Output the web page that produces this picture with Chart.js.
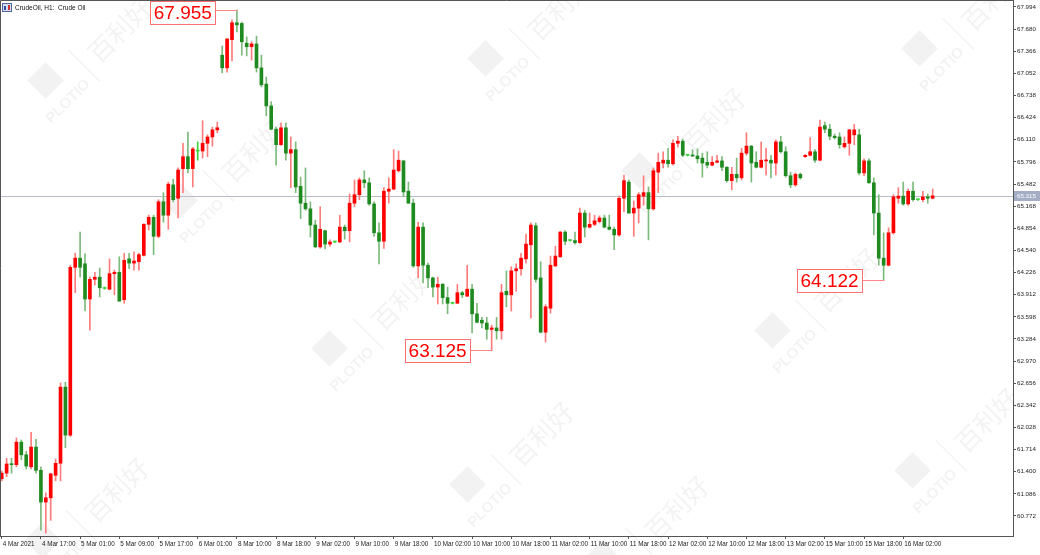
<!DOCTYPE html>
<html>
<head>
<meta charset="utf-8">
<title>CrudeOil H1</title>
<script src="https://cdn.jsdelivr.net/npm/chart.js@4.4.0/dist/chart.umd.min.js"></script>
<style>
  html, body { margin: 0; padding: 0; background: #fff; }
  canvas { display: block; }
</style>
</head>
<body>
<canvas id="chart" width="1040" height="555"></canvas>
<script>
// Chart title shown in the top-left corner
const chartTitle = 'CrudeOil, H1:  Crude Oil';

// Time labels, one every 8 hourly bars
const xTickLabels = [
  '4 Mar 2021', '4 Mar 17:00', '5 Mar 01:00', '5 Mar 09:00', '5 Mar 17:00', '6 Mar 01:00',
  '8 Mar 10:00', '8 Mar 18:00', '9 Mar 02:00', '9 Mar 10:00', '9 Mar 18:00', '10 Mar 02:00',
  '10 Mar 10:00', '10 Mar 18:00', '11 Mar 02:00', '11 Mar 10:00', '11 Mar 18:00', '12 Mar 02:00',
  '12 Mar 10:00', '12 Mar 18:00', '13 Mar 02:00', '15 Mar 10:00', '15 Mar 18:00', '16 Mar 02:00'
];

// Price scale labels
const yTickValues = [
  67.994, 67.680, 67.366, 67.052, 66.738, 66.424, 66.110, 65.796, 65.482, 65.168, 64.854, 64.540,
  64.226, 63.912, 63.598, 63.284, 62.970, 62.656, 62.342, 62.028, 61.714, 61.400, 61.086, 60.772
];

// Hourly candles (OHLC)
const opens = [
  61.30, 61.38, 61.51, 61.50, 61.82, 61.64, 61.47, 61.75, 61.42, 60.97,
  61.03, 61.35, 61.52, 62.60, 61.92, 64.30, 64.43, 64.35, 63.85, 64.13,
  64.16, 64.00, 63.99, 64.21, 64.23, 63.84, 64.42, 64.36, 64.38, 64.47,
  64.91, 65.01, 64.74, 65.23, 65.04, 65.47, 65.28, 65.70, 65.87, 65.70,
  65.95, 65.95, 66.06, 66.15, 66.25, 67.31, 67.13, 67.53, 67.77, 67.76,
  67.48, 67.43, 67.47, 67.13, 66.90, 66.59, 66.26, 66.04, 66.28, 65.92,
  65.97, 65.45, 65.21, 65.13, 64.90, 64.59, 64.82, 64.63, 64.66, 64.66,
  64.87, 64.82, 65.21, 65.33, 65.54, 65.50, 65.20, 64.79, 64.67, 65.38,
  65.41, 65.67, 65.81, 65.38, 65.21, 64.32, 64.87, 64.33, 64.15, 64.02,
  64.06, 63.87, 63.79, 63.79, 63.94, 63.89, 63.99, 63.64, 63.55, 63.51,
  63.42, 63.44, 63.40, 63.96, 63.91, 64.25, 64.28, 64.42, 64.62, 64.89,
  64.15, 63.38, 63.72, 64.32, 64.45, 64.80, 64.68, 64.68, 64.65, 65.07,
  64.87, 64.91, 64.95, 65.00, 64.87, 64.84, 64.76, 65.28, 65.51, 65.07,
  65.14, 65.31, 65.36, 65.13, 65.65, 65.78, 65.82, 65.77, 66.06, 66.09,
  65.89, 65.89, 65.88, 65.85, 65.79, 65.75, 65.79, 65.81, 65.72, 65.53,
  65.62, 65.57, 65.92, 66.02, 65.79, 65.72, 65.81, 65.82, 65.78, 66.08,
  65.94, 65.60, 65.47, 65.62, 65.87, 65.89, 65.94, 65.82, 66.31, 66.26,
  66.16, 66.15, 66.01, 66.06, 66.18, 66.18, 65.64, 65.81, 65.50, 65.07,
  64.43, 64.33, 64.79, 65.28, 65.31, 65.20, 65.38, 65.26, 65.26, 65.30, 65.28
];
const highs = [
  61.41, 61.59, 61.59, 61.88, 61.85, 61.69, 61.96, 61.86, 61.47, 61.10,
  61.38, 61.58, 62.66, 62.67, 64.33, 64.50, 64.80, 64.49, 64.16, 64.23,
  64.29, 64.02, 64.42, 64.26, 64.45, 64.50, 64.50, 64.52, 64.50, 64.92,
  65.04, 65.04, 65.26, 65.36, 65.51, 65.55, 65.71, 66.06, 66.22, 66.00,
  66.08, 66.38, 66.18, 66.29, 66.36, 67.44, 67.55, 67.81, 67.955, 67.78,
  67.57, 67.50, 67.58, 67.31, 67.00, 66.65, 66.29, 66.35, 66.35, 66.15,
  66.08, 65.58, 65.71, 65.23, 64.97, 65.16, 64.83, 64.69, 64.67, 65.04,
  64.90, 65.34, 65.54, 65.57, 65.67, 65.57, 65.23, 64.93, 65.43, 65.57,
  65.97, 65.95, 65.82, 65.51, 65.27, 64.94, 64.93, 64.36, 64.16, 64.16,
  64.07, 64.02, 63.80, 64.06, 63.96, 64.33, 64.06, 63.79, 63.59, 63.59,
  63.48, 63.59, 64.06, 64.25, 64.31, 64.35, 64.50, 64.77, 64.93, 64.93,
  64.38, 63.77, 64.46, 64.60, 64.81, 64.82, 64.69, 64.80, 65.14, 65.11,
  65.07, 65.04, 65.03, 65.04, 65.04, 64.87, 65.31, 65.61, 65.54, 65.24,
  65.36, 65.60, 65.44, 65.71, 65.92, 65.94, 65.99, 66.11, 66.16, 66.12,
  65.90, 65.97, 65.98, 65.92, 65.94, 65.87, 65.89, 65.87, 65.73, 65.72,
  65.85, 65.99, 66.21, 66.03, 65.94, 66.08, 65.99, 65.89, 66.11, 66.16,
  66.01, 65.65, 65.64, 65.64, 65.90, 66.14, 65.97, 66.39, 66.36, 66.33,
  66.19, 66.21, 66.15, 66.26, 66.33, 66.26, 65.84, 65.84, 65.57, 65.33,
  64.79, 64.86, 65.33, 65.43, 65.51, 65.41, 65.51, 65.27, 65.38, 65.34, 65.41
];
const lows = [
  61.27, 61.33, 61.38, 61.47, 61.57, 61.44, 61.44, 61.38, 60.57, 60.53,
  60.71, 61.27, 61.27, 61.74, 61.90, 63.94, 64.16, 63.68, 63.41, 64.05,
  63.88, 63.99, 63.98, 63.91, 63.82, 63.79, 64.28, 64.26, 64.26, 64.46,
  64.83, 64.48, 64.72, 64.94, 64.84, 65.23, 65.00, 65.36, 65.64, 65.44,
  65.82, 65.85, 65.87, 66.02, 66.21, 67.06, 67.07, 67.23, 67.64, 67.31,
  67.30, 67.24, 67.07, 66.86, 66.45, 66.25, 65.75, 66.03, 65.82, 65.43,
  65.36, 64.99, 65.11, 64.73, 64.58, 64.57, 64.56, 64.60, 64.65, 64.65,
  64.70, 64.66, 65.16, 65.26, 65.43, 65.18, 64.74, 64.35, 64.57, 65.21,
  65.40, 65.65, 65.30, 65.21, 64.30, 64.15, 64.08, 64.01, 63.88, 63.78,
  63.78, 63.64, 63.78, 63.79, 63.87, 63.89, 63.37, 63.51, 63.44, 63.28,
  63.125, 63.28, 63.28, 63.74, 63.68, 63.96, 64.19, 64.36, 63.58, 64.09,
  63.37, 63.24, 63.65, 64.31, 64.44, 64.62, 64.67, 64.63, 64.64, 64.73,
  64.86, 64.89, 64.93, 64.86, 64.83, 64.55, 64.74, 65.09, 65.07, 64.74,
  64.93, 65.18, 64.69, 65.11, 65.36, 65.71, 65.72, 65.75, 66.01, 65.87,
  65.88, 65.87, 65.78, 65.58, 65.71, 65.74, 65.78, 65.67, 65.51, 65.40,
  65.51, 65.54, 65.89, 65.51, 65.71, 65.71, 65.61, 65.57, 65.61, 65.92,
  65.58, 65.43, 65.45, 65.55, 65.86, 65.88, 65.79, 65.81, 66.21, 66.11,
  66.12, 65.99, 65.99, 65.89, 66.04, 65.61, 65.60, 65.49, 64.76, 64.33,
  64.122, 64.32, 64.77, 65.21, 65.18, 65.18, 65.24, 65.25, 65.23, 65.21, 65.27
];
const closes = [
  61.38, 61.51, 61.50, 61.82, 61.64, 61.48, 61.75, 61.42, 60.97, 61.03,
  61.37, 61.52, 62.60, 61.92, 64.30, 64.43, 64.30, 63.85, 64.13, 64.16,
  64.01, 64.00, 64.21, 64.23, 63.82, 64.40, 64.36, 64.39, 64.48, 64.91,
  65.01, 64.74, 65.23, 65.04, 65.48, 65.26, 65.68, 65.87, 65.70, 65.98,
  65.95, 66.06, 66.15, 66.25, 66.28, 67.13, 67.54, 67.77, 67.74, 67.50,
  67.43, 67.47, 67.13, 66.89, 66.59, 66.26, 66.04, 66.28, 65.92, 65.97,
  65.44, 65.21, 65.13, 64.90, 64.59, 64.84, 64.63, 64.66, 64.66, 64.87,
  64.82, 65.21, 65.33, 65.54, 65.50, 65.20, 64.79, 64.67, 65.38, 65.41,
  65.68, 65.82, 65.37, 65.21, 64.32, 64.87, 64.33, 64.15, 64.02, 64.06,
  63.87, 63.79, 63.79, 63.94, 63.91, 63.99, 63.64, 63.52, 63.51, 63.42,
  63.44, 63.40, 63.94, 63.91, 64.25, 64.28, 64.43, 64.63, 64.90, 64.13,
  63.38, 63.74, 64.33, 64.46, 64.80, 64.67, 64.68, 64.65, 65.07, 64.87,
  64.91, 64.96, 65.00, 64.87, 64.84, 64.76, 65.28, 65.53, 65.07, 65.14,
  65.33, 65.36, 65.13, 65.67, 65.79, 65.82, 65.77, 66.06, 66.09, 65.89,
  65.89, 65.88, 65.84, 65.78, 65.75, 65.79, 65.81, 65.72, 65.53, 65.62,
  65.57, 65.92, 66.02, 65.78, 65.72, 65.82, 65.82, 65.78, 66.08, 65.94,
  65.60, 65.47, 65.62, 65.57, 65.89, 65.94, 65.82, 66.29, 66.26, 66.16,
  66.14, 66.04, 66.06, 66.25, 66.25, 65.64, 65.81, 65.50, 65.07, 64.43,
  64.33, 64.79, 65.30, 65.31, 65.20, 65.38, 65.26, 65.26, 65.30, 65.28, 65.315
];

// Bars whose high / low carries a price tag
const taggedHighBars = [48];
const taggedLowBars = [100, 180];

const FONT = '"Liberation Sans", Arial, sans-serif';
const NARROW = '"Liberation Sans Narrow", "Liberation Sans", Arial, sans-serif';

// up candles red, down candles green
function candleColor(i, isBody) {
  if (closes[i] > opens[i]) return isBody ? '#ff0000' : '#ff7c7c';
  if (closes[i] < opens[i]) return isBody ? '#1f8a1f' : '#7cba7c';
  return '#3bd63b';
}

const bodyData = opens.map((o, i) => ({ x: i, y: [o, closes[i]] }));
const wickData = lows.map((l, i) => ({ x: i, y: [l, highs[i]] }));

// faint PLOTIO / 百利好 logos behind the candles
const watermarkSpots = [
  [88, 62], [222, 182], [528, 40], [372, 330], [682, 152], [510, 466],
  [815, 312], [962, 30], [955, 452], [85, 522], [645, 540]
];

function drawWatermark(ctx, cx, cy) {
  ctx.save();
  ctx.translate(cx, cy);
  ctx.rotate(-Math.PI / 4);
  ctx.fillStyle = 'rgba(0,0,0,0.05)';
  ctx.fillRect(-56, -30, 26, 26);
  ctx.font = 'bold 15px ' + FONT;
  ctx.textAlign = 'center';
  ctx.textBaseline = 'middle';
  ctx.fillText('PLOTIO', -42, 14);
  ctx.fillRect(-6, -22, 1.5, 44);
  ctx.font = '26px "Noto Sans CJK SC", sans-serif';
  ctx.textAlign = 'left';
  ctx.fillText('百利好', 6, 0);
  ctx.restore();
}

function drawPriceTag(ctx, chart, bar, price) {
  const px = chart.scales.x.getPixelForValue(bar);
  const py = Math.round(chart.scales.y.getPixelForValue(price)) + 0.5;
  const text = price.toFixed(3);
  ctx.font = '19px ' + FONT;
  const w = ctx.measureText(text).width + 8;
  const h = 24;
  const right = px - 21;
  const top = Math.max(1, py - h / 2);
  ctx.strokeStyle = '#ff8a8a';
  ctx.lineWidth = 1;
  ctx.beginPath();
  ctx.moveTo(right, py);
  ctx.lineTo(Math.round(px) + 0.5, py);
  ctx.stroke();
  ctx.fillStyle = '#fff';
  ctx.fillRect(right - w, top, w, h);
  ctx.strokeStyle = '#ff6f6f';
  ctx.strokeRect(Math.round(right - w) + 0.5, Math.round(top) + 0.5, Math.round(w) - 1, h - 1);
  ctx.fillStyle = '#ff0000';
  ctx.textAlign = 'center';
  ctx.textBaseline = 'middle';
  ctx.fillText(text, right - w / 2, top + h / 2 + 1);
}

const backdrop = {
  id: 'backdrop',
  beforeDatasetsDraw(chart) {
    const { ctx, chartArea } = chart;
    ctx.save();
    watermarkSpots.forEach(([x, y]) => drawWatermark(ctx, x, y));
    // last price line
    const py = Math.round(chart.scales.y.getPixelForValue(closes[closes.length - 1])) + 0.5;
    ctx.strokeStyle = '#b9bdc7';
    ctx.lineWidth = 1;
    ctx.beginPath();
    ctx.moveTo(chartArea.left, py);
    ctx.lineTo(chartArea.right, py);
    ctx.stroke();
    ctx.restore();
  }
};

const overlay = {
  id: 'overlay',
  afterDraw(chart) {
    const { ctx, chartArea } = chart;
    ctx.save();
    // frame top + left
    ctx.strokeStyle = '#555';
    ctx.lineWidth = 1;
    ctx.beginPath();
    ctx.moveTo(chartArea.left + 0.5, chartArea.bottom);
    ctx.lineTo(chartArea.left + 0.5, chartArea.top + 0.5);
    ctx.lineTo(chartArea.right, chartArea.top + 0.5);
    ctx.stroke();

    // last price tag on the axis
    const last = closes[closes.length - 1];
    const py = Math.round(chart.scales.y.getPixelForValue(last));
    ctx.fillStyle = '#a3aec4';
    ctx.fillRect(chartArea.right + 1, py - 5, 26, 10);
    ctx.fillStyle = '#fff';
    ctx.font = '6.2px ' + FONT;
    ctx.textAlign = 'left';
    ctx.textBaseline = 'middle';
    ctx.fillText(last.toFixed(3), chartArea.right + 4, py + 0.5);

    // high / low tags
    taggedHighBars.forEach(i => drawPriceTag(ctx, chart, i, highs[i]));
    taggedLowBars.forEach(i => drawPriceTag(ctx, chart, i, lows[i]));

    // title with small chart icon
    ctx.fillStyle = '#d6def2';
    ctx.fillRect(2, 3, 10, 9);
    ctx.strokeStyle = '#55649c';
    ctx.strokeRect(2.5, 3.5, 9, 8);
    ctx.fillStyle = '#2d4fb0';
    ctx.fillRect(4, 6, 2, 4);
    ctx.fillStyle = '#d03030';
    ctx.fillRect(8, 5, 2, 5);
    ctx.fillStyle = '#111';
    ctx.font = '6.5px ' + FONT;
    ctx.textAlign = 'left';
    ctx.textBaseline = 'middle';
    ctx.fillText(chartTitle, 15, 8);
    ctx.restore();
  }
};

new Chart(document.getElementById('chart'), {
  type: 'bar',
  data: {
    datasets: [
      {
        label: 'body',
        data: bodyData,
        grouped: false,
        order: 0,
        barThickness: 3,
        minBarLength: 1,
        borderWidth: 0,
        backgroundColor: c => candleColor(c.dataIndex, true)
      },
      {
        label: 'wick',
        data: wickData,
        grouped: false,
        order: 1,
        barThickness: 1,
        borderWidth: 0,
        backgroundColor: c => candleColor(c.dataIndex, false)
      }
    ]
  },
  options: {
    responsive: false,
    animation: false,
    devicePixelRatio: 1,
    events: [],
    layout: { padding: 0 },
    plugins: { legend: { display: false }, tooltip: { enabled: false } },
    scales: {
      x: {
        type: 'linear',
        position: 'bottom',
        offset: false,
        min: -0.35,
        max: 206.4,
        afterBuildTicks: s => { s.ticks = xTickLabels.map((_, k) => ({ value: k * 8 })); },
        afterFit: s => { s.height = 19; s.paddingLeft = 0; s.paddingRight = 0; },
        grid: { offset: false, drawOnChartArea: false, drawTicks: true, tickLength: 3, color: '#555' },
        border: { color: '#555' },
        ticks: {
          autoSkip: false,
          maxRotation: 0,
          align: 'start',
          padding: 1,
          labelOffset: 1,
          color: '#222',
          font: { family: NARROW, size: 6.3 },
          callback: v => xTickLabels[v / 8] ?? ''
        }
      },
      y: {
        position: 'right',
        min: 60.488,
        max: 68.093,
        afterBuildTicks: s => { s.ticks = yTickValues.map(v => ({ value: v })); },
        afterFit: s => { s.width = 27; s.paddingTop = 0; s.paddingBottom = 0; },
        grid: { drawOnChartArea: false, drawTicks: true, tickLength: 3, color: '#555' },
        border: { color: '#555' },
        ticks: {
          padding: 1,
          color: '#222',
          font: { family: FONT, size: 6.2 },
          callback: v => v.toFixed(3)
        }
      }
    }
  },
  plugins: [backdrop, overlay]
});
</script>
</body>
</html>
